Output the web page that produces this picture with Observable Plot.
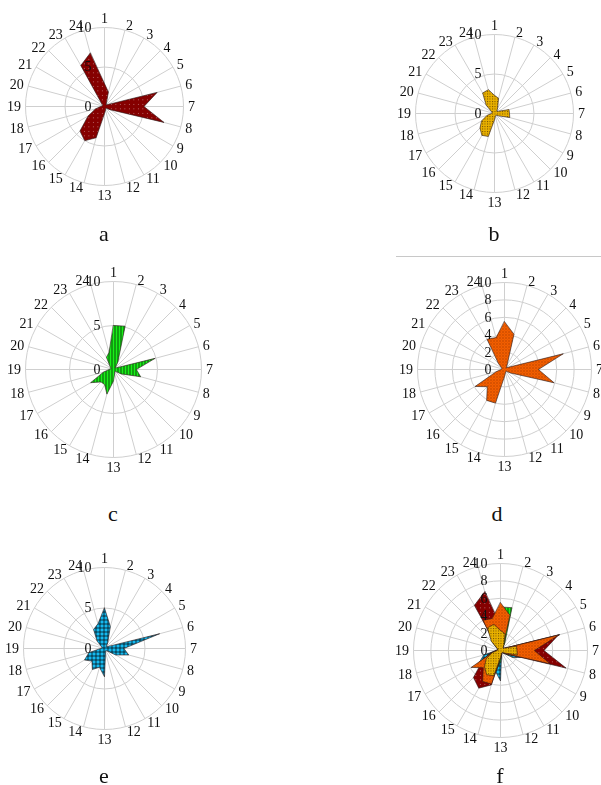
<!DOCTYPE html>
<html><head><meta charset="utf-8">
<script src="https://cdn.jsdelivr.net/npm/d3@7"></script>
<script src="https://cdn.jsdelivr.net/npm/@observablehq/plot@0.6"></script>
<style>
html,body{margin:0;padding:0;background:#fff;overflow:hidden;width:601px;height:785px;}
.panel{position:absolute;will-change:transform;}
.cap{position:absolute;font-family:'Liberation Serif','Times New Roman',serif;font-size:22px;line-height:14px;height:14px;width:40px;text-align:center;color:#111;}
.rule{position:absolute;left:396px;top:256px;width:205px;height:0;border-top:1px solid #c8c8c8;}
</style></head><body>
<svg width="0" height="0" style="position:absolute">
<defs>
<pattern id="patA" width="4.5" height="4.5" patternUnits="userSpaceOnUse">
<rect width="4.5" height="4.5" fill="#850000"/>
<rect x="1" y="1" width="0.8" height="0.8" fill="#fff" opacity="0.6"/>
</pattern>
<pattern id="patB" width="2.5" height="2.5" patternUnits="userSpaceOnUse">
<rect width="2.5" height="2.5" fill="#e8b000"/>
<rect x="0" y="0" width="1" height="1" fill="#5a3c00" opacity="0.85"/>
</pattern>
<pattern id="patC" width="3" height="3" patternUnits="userSpaceOnUse">
<rect width="3" height="3" fill="#19f019"/>
<rect x="0" y="0" width="0.8" height="3" fill="#000" opacity="0.85"/>
</pattern>
<pattern id="patD" width="3" height="3" patternUnits="userSpaceOnUse">
<rect width="3" height="3" fill="#ff6400"/>
<rect x="0" y="0" width="1" height="1" fill="#6a2000" opacity="0.85"/>
<rect x="1.5" y="1.5" width="1" height="1" fill="#6a2000" opacity="0.7"/>
</pattern>
<pattern id="patE" width="4" height="4" patternUnits="userSpaceOnUse">
<rect width="4" height="4" fill="#14b9f0"/>
<rect x="0" y="0" width="0.7" height="4" fill="#000"/>
<rect x="0" y="0" width="4" height="0.7" fill="#000"/>
</pattern>
</defs>
</svg>
<div class="rule"></div>
<div id="root"></div>
<script>
// ---- data ----
const hours = [1,2,3,4,5,6,7,8,9,10,11,12,13,14,15,16,17,18,19,20,21,22,23,24];
const hourLabels = ["1","2","3","4","5","6","7","8","9","10","11","12","13","14","15","16","17","18","19","20","21","22","23","24"];
const ticksCoarse = [0, 5, 10];
const ticksFine = [0, 2, 4, 6, 8, 10];
const captions = ["a", "b", "c", "d", "e", "f"];

const seriesA = [2.9, 1.9, 0.5, 0.3, 0.5, 6.9, 5.0, 7.8, 0.8, 0.3, 0.3, 0.5, 0.9, 4.1, 5.0, 4.4, 2.4, 1.2, 0.5, 0.3, 0.3, 0.5, 6.0, 7.0];
const seriesB = [2.3, 2.0, 0.8, 0.4, 0.6, 1.9, 1.9, 2.0, 0.6, 0.3, 0.3, 0.4, 0.8, 3.0, 3.2, 2.6, 1.9, 1.0, 0.4, 0.3, 0.4, 1.5, 3.0, 3.1];
const seriesC = [5.0, 5.1, 1.0, 0.3, 0.4, 4.9, 2.6, 3.2, 1.0, 0.3, 0.3, 0.5, 1.3, 2.9, 2.0, 2.0, 3.0, 1.2, 0.5, 0.3, 0.4, 0.6, 1.6, 2.0];
const seriesD = [5.5, 4.2, 0.6, 0.3, 0.5, 7.0, 3.9, 5.9, 0.8, 0.3, 0.3, 0.4, 0.8, 4.0, 4.1, 2.8, 3.9, 1.0, 0.4, 0.3, 0.4, 1.0, 4.0, 3.8];
const seriesE = [5.0, 2.8, 0.8, 0.3, 0.5, 7.05, 2.4, 3.1, 1.6, 0.4, 0.3, 0.5, 3.5, 2.4, 3.0, 2.2, 2.85, 2.0, 0.5, 0.3, 0.4, 1.3, 2.7, 3.15];

// ---- styles / layout ----
const fills = {a: "url(#patA)", b: "url(#patB)", c: "url(#patC)", d: "url(#patD)", e: "url(#patE)"};
const values = {a: seriesA, b: seriesB, c: seriesC, d: seriesD, e: seriesE};
const panels = [
  {id: "a", cx: 104, cy: 106, R: 79, ticks: ticksCoarse, layers: ["a"], capX: 104, capY: 236},
  {id: "b", cx: 494, cy: 113, R: 79, ticks: ticksCoarse, layers: ["b"], capX: 494, capY: 236},
  {id: "c", cx: 113, cy: 369, R: 88, ticks: ticksCoarse, layers: ["c"], capX: 113, capY: 516},
  {id: "d", cx: 504, cy: 369, R: 87, ticks: ticksFine, layers: ["d"], capX: 497, capY: 516},
  {id: "e", cx: 104, cy: 648, R: 81, ticks: ticksCoarse, layers: ["e"], capX: 104, capY: 778},
  {id: "f", cx: 500, cy: 650, R: 87, ticks: ticksFine, layers: ["e", "c", "a", "d", "b"], capX: 500, capY: 778}
];
const SIZE = 250;
const MAXV = 10;
const PAD = 4.5;
const ang = h => (h - 1) * Math.PI / 12;
const serif = "'Liberation Serif','Times New Roman',serif";
const eps = 1e-6;

const root = document.getElementById("root");

for (const p of panels) {
  const k = p.R / MAXV;
  const half = SIZE / 2 / k;
  const lr = (p.R + PAD) / k;
  const lx = h => lr * Math.sin(ang(h));
  const ly = h => lr * Math.cos(ang(h));
  const marks = [
    Plot.dot(p.ticks.filter(v => v > 0), {x: 0, y: 0, r: d => d, fill: "none", stroke: "#cfcfcf", strokeWidth: 1}),
    Plot.link(hours, {x1: 0, y1: 0, x2: h => MAXV * Math.sin(ang(h)), y2: h => MAXV * Math.cos(ang(h)), stroke: "#cfcfcf", strokeWidth: 1})
  ];
  for (const key of p.layers) {
    const pts = hours.map((h, i) => ({h, v: values[key][i]}));
    marks.push(Plot.line(pts, {
      x: d => d.v * Math.sin(ang(d.h)),
      y: d => d.v * Math.cos(ang(d.h)),
      curve: "linear-closed",
      fill: fills[key],
      stroke: "#2a1a1a",
      strokeWidth: 0.6,
      strokeLinejoin: "miter"
    }));
  }
  marks.push(Plot.text(p.ticks, {x: 0, y: d => d, text: d => String(d), dx: -13, textAnchor: "end", fill: "#111"}));
  const common = {x: lx, y: ly, text: h => hourLabels[h - 1], fill: "#111"};
  marks.push(Plot.text(hours.filter(h => Math.sin(ang(h)) > eps), {...common, textAnchor: "start"}));
  marks.push(Plot.text(hours.filter(h => Math.sin(ang(h)) < -eps), {...common, textAnchor: "end"}));
  marks.push(Plot.text(hours.filter(h => Math.abs(Math.sin(ang(h))) <= eps && Math.cos(ang(h)) > 0), {...common, lineAnchor: "bottom"}));
  marks.push(Plot.text(hours.filter(h => Math.abs(Math.sin(ang(h))) <= eps && Math.cos(ang(h)) < 0), {...common, lineAnchor: "top"}));
  const svg = Plot.plot({
    width: SIZE, height: SIZE, margin: 0,
    style: {background: "transparent", fontFamily: serif, fontSize: "14px", overflow: "visible"},
    x: {domain: [-half, half], axis: null},
    y: {domain: [-half, half], axis: null},
    r: {type: "linear", domain: [0, MAXV], range: [0, p.R]},
    marks
  });
  const div = document.createElement("div");
  div.className = "panel";
  div.style.left = (p.cx - SIZE / 2) + "px";
  div.style.top = (p.cy - SIZE / 2) + "px";
  div.style.width = SIZE + "px";
  div.style.height = SIZE + "px";
  div.appendChild(svg);
  root.appendChild(div);
  const cap = document.createElement("div");
  cap.className = "cap";
  cap.textContent = captions[panels.indexOf(p)];
  cap.style.left = (p.capX - 20) + "px";
  cap.style.top = (p.capY - 9.5) + "px";
  root.appendChild(cap);
}
</script>
</body></html>
